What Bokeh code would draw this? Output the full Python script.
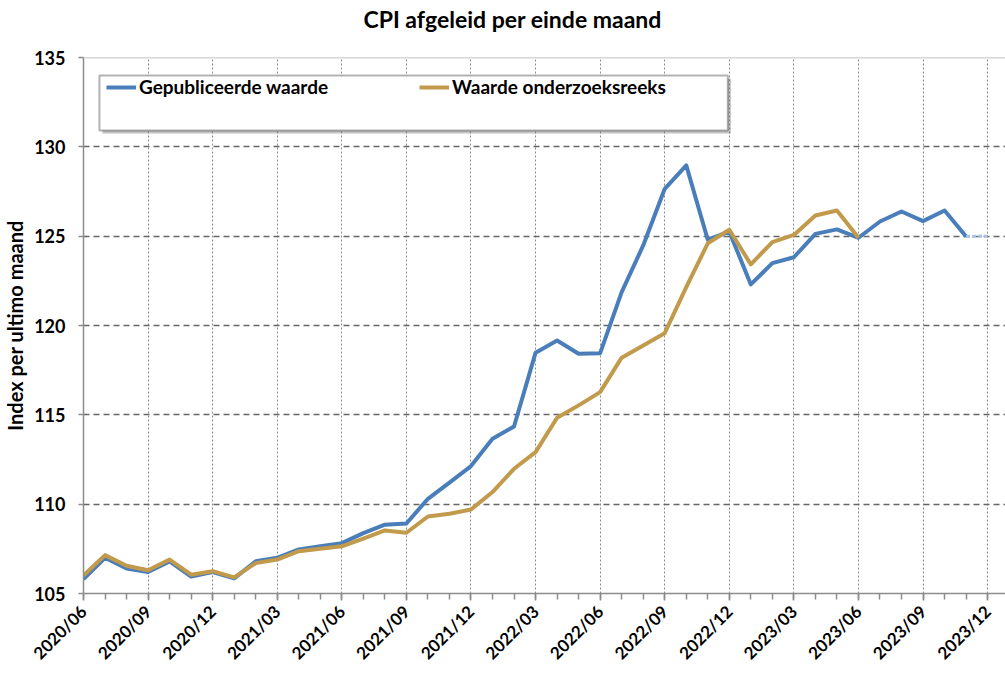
from bokeh.plotting import figure
from bokeh.models import Range1d, FixedTicker, Span, BoxAnnotation, Legend, LegendItem, Title
from bokeh.embed import file_html
from bokeh.resources import INLINE

# ---- data (month index 0 = 2020/06) ----
tick_labels = ["2020/06", "2020/09", "2020/12", "2021/03", "2021/06", "2021/09", "2021/12",
               "2022/03", "2022/06", "2022/09", "2022/12", "2023/03", "2023/06", "2023/09", "2023/12"]

published = [105.8, 107.0, 106.4, 106.2, 106.8, 105.95, 106.2, 105.85, 106.8, 107.0,
             107.47, 107.64, 107.82, 108.38, 108.85, 108.92, 110.3, 111.2, 112.13, 113.66,
             114.35, 118.48, 119.16, 118.42, 118.45, 121.87, 124.48, 127.65, 128.96, 124.8,
             125.25, 122.3, 123.49, 123.82, 125.13, 125.38, 124.91, 125.82, 126.38, 125.84,
             126.44, 124.98]

research = [106.0, 107.15, 106.55, 106.3, 106.9, 106.05, 106.25, 105.9, 106.7, 106.9,
            107.37, 107.5, 107.64, 108.07, 108.53, 108.4, 109.31, 109.46, 109.7, 110.68,
            111.98, 112.91, 114.84, 115.53, 116.27, 118.2, 118.88, 119.57, 122.15, 124.6,
            125.36, 123.42, 124.67, 125.07, 126.16, 126.44, 124.91]

estimate_months = [41, 42]
estimate = [124.98, 125.0]

series_names = ["Gepubliceerde waarde", "Waarde onderzoeksreeks"]
title_text = "CPI afgeleid per einde maand"
y_label = "Index per ultimo maand"

FONT = "Lato"
BLUE = "#4a7ebb"
GOLD = "#c19a4c"

p = figure(width=1005, height=673, output_backend="svg", toolbar_location=None,
           x_range=Range1d(0, 42.83), y_range=Range1d(105, 135),
           min_border_left=82, min_border_right=0, min_border_top=57, min_border_bottom=80)
p.outline_line_color = None
p.background_fill_color = "white"
p.border_fill_color = "white"

# spacer between title and plot frame
p.add_layout(Title(text=" ", text_font_size="1px", standoff=22), "above")

# title
p.title.text = title_text
p.title.text_font = FONT
p.title.text_font_size = "23px"
p.title.text_font_style = "bold"
p.title.text_color = "black"
p.title.align = "left"
p.title.offset = 280
p.title.standoff = 0

# axes
quarters = list(range(0, 43, 3))
p.xaxis.ticker = FixedTicker(ticks=quarters, minor_ticks=list(range(0, 43)))
p.xaxis.major_label_overrides = {q: lab for q, lab in zip(quarters, tick_labels)}
p.xaxis.major_label_orientation = 0.785398
p.yaxis.ticker = FixedTicker(ticks=[105, 110, 115, 120, 125, 130, 135])

for ax in (p.xaxis, p.yaxis):
    ax.axis_line_color = "#8c8c8c"
    ax.axis_line_width = 1.5
    ax.major_tick_line_color = "#8c8c8c"
    ax.major_tick_line_width = 1.5
    ax.minor_tick_line_color = "#8c8c8c"
    ax.minor_tick_line_width = 1.5
    ax.major_tick_in = 0
    ax.minor_tick_in = 0
    ax.major_label_text_font = FONT
    ax.major_label_text_font_style = "bold"
    ax.major_label_text_color = "black"

p.xaxis.major_label_text_font_size = "17px"
p.yaxis.major_label_text_font_size = "18px"
p.xaxis.major_tick_out = 7
p.xaxis.minor_tick_out = 6
p.xaxis.major_label_standoff = 8
p.yaxis.major_tick_out = 5
p.yaxis.minor_tick_out = 0
p.yaxis.major_label_standoff = 13

p.yaxis.axis_label = y_label
p.yaxis.axis_label_text_font = FONT
p.yaxis.axis_label_text_font_style = "bold"
p.yaxis.axis_label_text_font_size = "20px"
p.yaxis.axis_label_text_color = "black"
p.yaxis.axis_label_standoff = 4

# grids
p.xgrid.ticker = FixedTicker(ticks=quarters[1:])
p.xgrid.grid_line_color = "#8a8a8a"
p.xgrid.grid_line_dash = "2 2"
p.xgrid.grid_line_width = 1
p.ygrid.ticker = FixedTicker(ticks=[110, 115, 120, 125, 130])
p.ygrid.grid_line_color = "#666666"
p.ygrid.grid_line_dash = "6 4"
p.ygrid.grid_line_width = 1.3
p.add_layout(Span(location=135, dimension="width", line_color="#b0b0b0", line_width=1.5))

# lines
months_pub = list(range(len(published)))
months_res = list(range(len(research)))
r_pub = p.line(months_pub, published, line_color=BLUE, line_width=4, line_join="round")
p.line(estimate_months, estimate, line_color="#a9c3e6", line_width=3, line_dash="4 2")
r_res = p.line(months_res, research, line_color=GOLD, line_width=4, line_join="round")

# legend frame (with drop shadow)
p.add_layout(BoxAnnotation(left=0.88, right=30.07, top=133.82, bottom=130.75,
                           fill_color="#7a7a7a", fill_alpha=0.45, line_alpha=0))
p.add_layout(BoxAnnotation(left=0.74, right=29.93, top=133.99, bottom=130.915,
                           fill_color="white", fill_alpha=1.0, line_color="black", line_width=2))

common = dict(orientation="horizontal", border_line_alpha=0, background_fill_alpha=0,
              padding=0, margin=0, glyph_width=30, glyph_height=20, label_height=20,
              label_standoff=3, label_text_font=FONT, label_text_font_style="bold",
              label_text_font_size="19px", label_text_color="black")
leg1 = Legend(items=[LegendItem(label=series_names[0], renderers=[r_pub])],
              location=(23, 495), **common)
leg2 = Legend(items=[LegendItem(label=series_names[1], renderers=[r_res])],
              location=(336, 495), **common)
p.add_layout(leg1)
p.add_layout(leg2)

open("out.html", "w").write(file_html(p, INLINE))
